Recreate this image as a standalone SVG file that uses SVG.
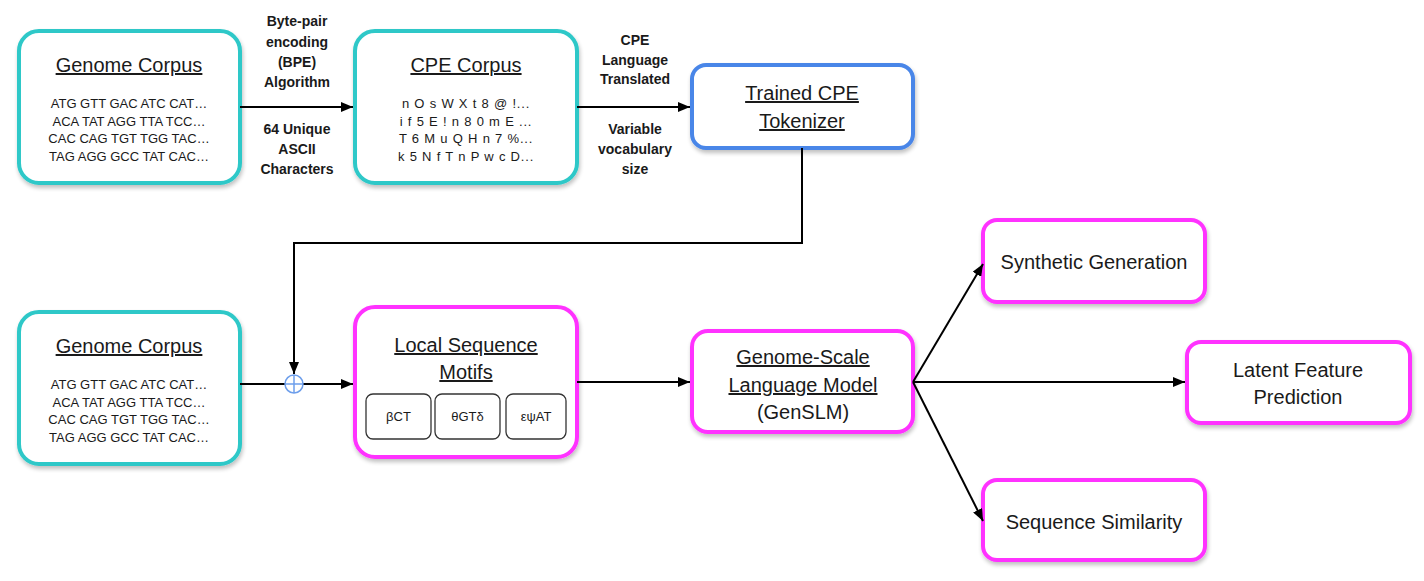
<svg xmlns="http://www.w3.org/2000/svg" width="1424" height="581" viewBox="0 0 1424 581">
<defs>
<marker id="arr" viewBox="0 0 12 10" refX="12" refY="5" markerWidth="12" markerHeight="10" markerUnits="userSpaceOnUse" orient="auto">
<path d="M0,0 L12,5 L0,10 z" fill="#000"/>
</marker>
<filter id="sh" x="-10%" y="-10%" width="125%" height="130%">
<feGaussianBlur in="SourceAlpha" stdDeviation="2"/>
<feOffset dx="1" dy="3" result="b"/>
<feComponentTransfer><feFuncA type="linear" slope="0.25"/></feComponentTransfer>
<feMerge><feMergeNode/><feMergeNode in="SourceGraphic"/></feMerge>
</filter>
</defs>
<style>
text{font-family:"Liberation Sans",Arial,sans-serif;fill:#1a1a1a;text-anchor:middle}
.box{fill:#fff;stroke-width:4;filter:url(#sh)}
.teal{stroke:#2ec8c8}
.mag{stroke:#ff33ff}
.blue{stroke:#4a86e8}
.title{font-size:20px;text-decoration:underline}
.seq{font-size:13px}
.cpe{font-size:13px;letter-spacing:0.8px}
.lbl{font-size:14px;font-weight:bold}
.big{font-size:20px}
.sub{fill:#fff;stroke:#333;stroke-width:1.3}
.con{stroke:#000;stroke-width:2;fill:none}
</style>
<rect width="1424" height="581" fill="#fff"/>

<g id="genome-top">
<rect class="box teal" x="19" y="31" width="221" height="152" rx="20"/>
<text class="title" x="129" y="72">Genome Corpus</text>
<text class="seq" x="129" y="108">ATG GTT GAC ATC CAT…</text>
<text class="seq" x="129" y="125.5">ACA TAT AGG TTA TCC…</text>
<text class="seq" x="129" y="143">CAC CAG TGT TGG TAC…</text>
<text class="seq" x="129" y="160.5">TAG AGG GCC TAT CAC…</text>
</g>

<g id="cpe-corpus">
<rect class="box teal" x="355" y="31" width="222" height="152" rx="20"/>
<text class="title" x="466" y="72">CPE Corpus</text>
<text class="cpe" x="466" y="108">n O s W X t 8 @ !...</text>
<text class="cpe" x="466" y="125.5">i f 5 E ! n 8 0 m E ...</text>
<text class="cpe" x="466" y="143">T 6 M u Q H n 7 %...</text>
<text class="cpe" x="466" y="160.5">k 5 N f T n P w c D...</text>
</g>

<g id="tokenizer">
<rect class="box blue" x="692" y="65" width="221" height="83" rx="14"/>
<text class="big" x="802" y="100" text-decoration="underline">Trained CPE</text>
<text class="big" x="802" y="128" text-decoration="underline">Tokenizer</text>
</g>

<g id="genome-bottom">
<rect class="box teal" x="19" y="312" width="221" height="152" rx="20"/>
<text class="title" x="129" y="353">Genome Corpus</text>
<text class="seq" x="129" y="389">ATG GTT GAC ATC CAT…</text>
<text class="seq" x="129" y="406.5">ACA TAT AGG TTA TCC…</text>
<text class="seq" x="129" y="424">CAC CAG TGT TGG TAC…</text>
<text class="seq" x="129" y="441.5">TAG AGG GCC TAT CAC…</text>
</g>

<g id="motifs">
<rect class="box mag" x="355" y="307" width="222" height="150" rx="20"/>
<text class="big" x="466" y="352" text-decoration="underline">Local Sequence</text>
<text class="big" x="466" y="379" text-decoration="underline">Motifs</text>
<rect class="sub" x="366" y="394" width="65" height="45" rx="7"/>
<text class="seq" x="398.5" y="421">βCT</text>
<rect class="sub" x="435" y="394" width="65" height="45" rx="7"/>
<text class="seq" x="467.5" y="421">θGTδ</text>
<rect class="sub" x="506" y="394" width="60" height="45" rx="7"/>
<text class="seq" x="536" y="421">εψAT</text>
</g>

<g id="genslm">
<rect class="box mag" x="692" y="331" width="221" height="101" rx="16"/>
<text class="big" x="803" y="364" text-decoration="underline">Genome-Scale</text>
<text class="big" x="803" y="392" text-decoration="underline">Language Model</text>
<text class="big" x="803" y="419">(GenSLM)</text>
</g>

<g id="synthetic">
<rect class="box mag" x="983" y="220" width="222" height="82" rx="14"/>
<text class="big" x="1094" y="269">Synthetic Generation</text>
</g>

<g id="latent">
<rect class="box mag" x="1187" y="342" width="223" height="81" rx="14"/>
<text class="big" x="1298" y="377">Latent Feature</text>
<text class="big" x="1298" y="404">Prediction</text>
</g>

<g id="similarity">
<rect class="box mag" x="983" y="480" width="222" height="80" rx="14"/>
<text class="big" x="1094" y="529">Sequence Similarity</text>
</g>

<g id="connectors">
<line class="con" x1="240" y1="107" x2="353" y2="107" marker-end="url(#arr)"/>
<line class="con" x1="577" y1="107" x2="690" y2="107" marker-end="url(#arr)"/>
<polyline class="con" points="802,148 802,243 294,243 294,374" marker-end="url(#arr)"/>
<line class="con" x1="240" y1="384" x2="285" y2="384"/>
<line class="con" x1="303" y1="384" x2="353" y2="384" marker-end="url(#arr)"/>
<circle cx="294" cy="384" r="9" fill="#fff" stroke="#6d9eeb" stroke-width="1.5"/>
<line x1="285" y1="384" x2="303" y2="384" stroke="#6d9eeb" stroke-width="1.5"/>
<line x1="294" y1="375" x2="294" y2="393" stroke="#6d9eeb" stroke-width="1.5"/>
<line class="con" x1="577" y1="382" x2="690" y2="382" marker-end="url(#arr)"/>
<line class="con" x1="913" y1="382" x2="983" y2="264" marker-end="url(#arr)"/>
<line class="con" x1="913" y1="382" x2="1185" y2="382" marker-end="url(#arr)"/>
<line class="con" x1="913" y1="382" x2="983" y2="521" marker-end="url(#arr)"/>
<text class="lbl" x="297" y="26">Byte-pair</text>
<text class="lbl" x="297" y="47">encoding</text>
<text class="lbl" x="297" y="67">(BPE)</text>
<text class="lbl" x="297" y="87">Algorithm</text>
<text class="lbl" x="297" y="134">64 Unique</text>
<text class="lbl" x="297" y="154">ASCII</text>
<text class="lbl" x="297" y="174">Characters</text>
<text class="lbl" x="635" y="45">CPE</text>
<text class="lbl" x="635" y="65">Language</text>
<text class="lbl" x="635" y="84">Translated</text>
<text class="lbl" x="635" y="134">Variable</text>
<text class="lbl" x="635" y="154">vocabulary</text>
<text class="lbl" x="635" y="174">size</text>
</g>
</svg>
